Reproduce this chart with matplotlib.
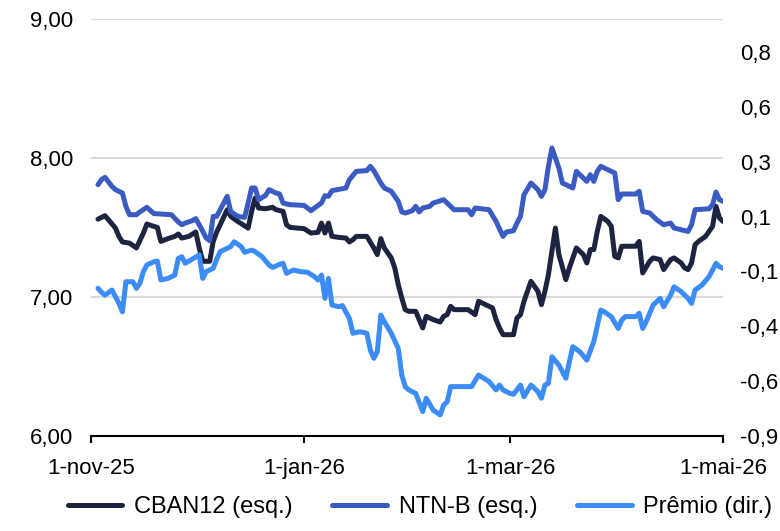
import pandas as pd
import matplotlib
matplotlib.use("Agg")
import matplotlib.pyplot as plt
from matplotlib.ticker import FixedLocator, FixedFormatter, FuncFormatter

plt.rcParams["font.family"] = ["Liberation Sans", "DejaVu Sans"]
plt.rcParams["font.size"] = 16

# CBAN12 (eixo esquerdo)
cban_dates = [
    "03/11/25", "05/11/25", "06/11/25", "08/11/25", "09/11/25", "10/11/25", "12/11/25", "14/11/25", "16/11/25",
    "17/11/25", "19/11/25", "20/11/25", "21/11/25", "23/11/25", "25/11/25", "26/11/25", "27/11/25", "29/11/25",
    "01/12/25", "02/12/25", "03/12/25", "05/12/25", "06/12/25", "07/12/25", "08/12/25", "10/12/25", "11/12/25",
    "13/12/25", "16/12/25", "17/12/25", "18/12/25", "19/12/25", "21/12/25", "23/12/25", "24/12/25", "26/12/25",
    "27/12/25", "28/12/25", "30/12/25",
    "01/01/26", "03/01/26", "05/01/26", "06/01/26", "07/01/26", "08/01/26", "09/01/26", "11/01/26", "13/01/26",
    "14/01/26", "15/01/26", "16/01/26", "19/01/26", "21/01/26", "22/01/26", "23/01/26", "24/01/26", "26/01/26",
    "27/01/26", "28/01/26", "29/01/26", "30/01/26", "31/01/26",
    "02/02/26", "04/02/26", "05/02/26", "07/02/26", "09/02/26", "10/02/26", "11/02/26", "12/02/26", "13/02/26",
    "15/02/26", "17/02/26", "19/02/26", "20/02/26", "22/02/26", "24/02/26", "25/02/26", "26/02/26", "27/02/26",
    "02/03/26", "03/03/26", "04/03/26", "05/03/26", "07/03/26", "09/03/26", "10/03/26", "11/03/26", "12/03/26",
    "14/03/26", "15/03/26", "17/03/26", "18/03/26", "20/03/26", "22/03/26", "23/03/26", "24/03/26", "25/03/26",
    "26/03/26", "27/03/26", "29/03/26", "30/03/26", "31/03/26",
    "01/04/26", "02/04/26", "06/04/26", "07/04/26", "08/04/26", "10/04/26", "11/04/26", "13/04/26", "14/04/26",
    "16/04/26", "17/04/26", "19/04/26", "20/04/26", "21/04/26", "22/04/26", "23/04/26", "24/04/26", "26/04/26",
    "27/04/26", "28/04/26", "29/04/26", "30/04/26", "01/05/26",
]
cban_values = [
    7.560, 7.585, 7.556, 7.496, 7.436, 7.396, 7.388, 7.353, 7.460, 7.525, 7.508, 7.501, 7.400, 7.420, 7.436, 7.453, 7.424, 7.436,
    7.468, 7.353, 7.257, 7.257, 7.400, 7.468, 7.520, 7.628, 7.580, 7.544, 7.496, 7.616, 7.712, 7.640, 7.635, 7.645, 7.628, 7.616,
    7.520, 7.501, 7.496,
    7.492, 7.460, 7.465, 7.532, 7.460, 7.532, 7.436, 7.429, 7.424, 7.396, 7.412, 7.436, 7.436, 7.353, 7.305, 7.420, 7.353, 7.281,
    7.209, 7.089, 6.993, 6.909, 6.897,
    6.897, 6.777, 6.861, 6.837, 6.820, 6.861, 6.873, 6.933, 6.909, 6.909, 6.909, 6.873, 6.969, 6.945, 6.921, 6.837, 6.777, 6.729,
    6.729, 6.849, 6.873, 6.969, 7.113, 7.041, 6.945, 7.041, 7.161, 7.496, 7.305, 7.125, 7.209, 7.353, 7.305, 7.245, 7.341, 7.341,
    7.472, 7.580, 7.544, 7.508, 7.293,
    7.281, 7.365, 7.365, 7.400, 7.173, 7.257, 7.281, 7.269, 7.197, 7.269, 7.281, 7.245, 7.209, 7.197, 7.245, 7.376, 7.400, 7.436,
    7.472, 7.508, 7.652, 7.568, 7.544,
]

# NTN-B (eixo esquerdo)
ntnb_dates = [
    "03/11/25", "04/11/25", "05/11/25", "07/11/25", "08/11/25", "10/11/25", "11/11/25", "12/11/25", "14/11/25",
    "15/11/25", "17/11/25", "19/11/25", "21/11/25", "24/11/25", "26/11/25", "27/11/25", "28/11/25", "30/11/25",
    "01/12/25", "02/12/25", "04/12/25", "05/12/25", "06/12/25", "07/12/25", "08/12/25", "10/12/25", "11/12/25",
    "13/12/25", "15/12/25", "16/12/25", "17/12/25", "18/12/25", "19/12/25", "21/12/25", "22/12/25", "24/12/25",
    "25/12/25", "26/12/25", "28/12/25",
    "01/01/26", "03/01/26", "04/01/26", "06/01/26", "07/01/26", "08/01/26", "09/01/26", "13/01/26", "14/01/26",
    "16/01/26", "19/01/26", "20/01/26", "21/01/26", "23/01/26", "24/01/26", "26/01/26", "28/01/26", "29/01/26",
    "30/01/26",
    "01/02/26", "02/02/26", "03/02/26", "04/02/26", "06/02/26", "07/02/26", "10/02/26", "11/02/26", "13/02/26",
    "17/02/26", "18/02/26", "19/02/26", "23/02/26", "25/02/26", "27/02/26", "28/02/26",
    "02/03/26", "03/03/26", "04/03/26", "05/03/26", "07/03/26", "09/03/26", "10/03/26", "11/03/26", "12/03/26",
    "13/03/26", "15/03/26", "16/03/26", "18/03/26", "19/03/26", "20/03/26", "21/03/26", "23/03/26", "24/03/26",
    "25/03/26", "26/03/26", "27/03/26", "31/03/26",
    "01/04/26", "02/04/26", "06/04/26", "07/04/26", "08/04/26", "10/04/26", "11/04/26", "12/04/26", "14/04/26",
    "16/04/26", "17/04/26", "19/04/26", "21/04/26", "22/04/26", "23/04/26", "27/04/26", "28/04/26", "29/04/26",
    "30/04/26", "01/05/26",
]
ntnb_values = [
    7.808, 7.844, 7.861, 7.796, 7.772, 7.748, 7.652, 7.592, 7.592, 7.612, 7.645, 7.600, 7.597, 7.592, 7.540, 7.520, 7.532, 7.549,
    7.564, 7.520, 7.424, 7.405, 7.580, 7.580, 7.628, 7.724, 7.616, 7.580, 7.573, 7.676, 7.784, 7.784, 7.700, 7.731, 7.772, 7.748,
    7.741, 7.676, 7.664,
    7.659, 7.621, 7.640, 7.676, 7.729, 7.724, 7.765, 7.784, 7.844, 7.904, 7.909, 7.940, 7.909, 7.820, 7.784, 7.760, 7.688, 7.612,
    7.604,
    7.621, 7.652, 7.612, 7.640, 7.652, 7.676, 7.700, 7.676, 7.628, 7.628, 7.592, 7.640, 7.628, 7.544, 7.436, 7.468,
    7.477, 7.532, 7.580, 7.736, 7.820, 7.772, 7.724, 7.772, 7.940, 8.072, 7.928, 7.820, 7.796, 7.784, 7.904, 7.880, 7.832, 7.880,
    7.832, 7.904, 7.940, 7.892,
    7.700, 7.741, 7.741, 7.760, 7.616, 7.604, 7.580, 7.556, 7.520, 7.532, 7.496, 7.484, 7.472, 7.520, 7.628, 7.635, 7.664, 7.755,
    7.700, 7.688,
]

# Prêmio (eixo direito)
premio_dates = [
    "03/11/25", "04/11/25", "05/11/25", "07/11/25", "08/11/25", "09/11/25", "10/11/25", "11/11/25", "13/11/25",
    "14/11/25", "15/11/25", "16/11/25", "17/11/25", "19/11/25", "20/11/25", "21/11/25", "23/11/25", "25/11/25",
    "26/11/25", "27/11/25", "28/11/25", "30/11/25",
    "02/12/25", "03/12/25", "04/12/25", "06/12/25", "07/12/25", "08/12/25", "10/12/25", "11/12/25", "12/12/25",
    "14/12/25", "15/12/25", "17/12/25", "18/12/25", "20/12/25", "22/12/25", "23/12/25", "25/12/25", "26/12/25",
    "27/12/25", "28/12/25", "29/12/25", "31/12/25",
    "02/01/26", "04/01/26", "05/01/26", "06/01/26", "07/01/26", "08/01/26", "09/01/26", "11/01/26", "12/01/26",
    "14/01/26", "15/01/26", "17/01/26", "18/01/26", "19/01/26", "20/01/26", "21/01/26", "22/01/26", "23/01/26",
    "24/01/26", "26/01/26", "28/01/26", "29/01/26", "30/01/26", "31/01/26",
    "02/02/26", "04/02/26", "05/02/26", "07/02/26", "09/02/26", "10/02/26", "11/02/26", "12/02/26", "18/02/26",
    "20/02/26", "23/02/26", "25/02/26", "26/02/26", "27/02/26",
    "01/03/26", "02/03/26", "04/03/26", "05/03/26", "07/03/26", "09/03/26", "10/03/26", "11/03/26", "12/03/26",
    "13/03/26", "15/03/26", "17/03/26", "18/03/26", "19/03/26", "21/03/26", "23/03/26", "25/03/26", "27/03/26",
    "28/03/26", "30/03/26",
    "01/04/26", "02/04/26", "03/04/26", "06/04/26", "07/04/26", "08/04/26", "09/04/26", "11/04/26", "13/04/26",
    "14/04/26", "16/04/26", "17/04/26", "19/04/26", "21/04/26", "22/04/26", "23/04/26", "25/04/26", "27/04/26",
    "28/04/26", "29/04/26", "30/04/26", "01/05/26",
]
premio_values = [
    -0.227, -0.245, -0.258, -0.235, -0.265, -0.296, -0.334, -0.197, -0.197, -0.227, -0.204, -0.151, -0.121, -0.106,
    -0.103, -0.189, -0.182, -0.167, -0.091, -0.083, -0.113, -0.094,
    -0.075, -0.182, -0.151, -0.136, -0.094, -0.060, -0.045, -0.037, -0.015, -0.037, -0.063, -0.053, -0.060, -0.083,
    -0.121, -0.132, -0.118, -0.113, -0.159, -0.151, -0.144, -0.151,
    -0.154, -0.174, -0.189, -0.167, -0.273, -0.182, -0.303, -0.311, -0.306, -0.364, -0.432, -0.425, -0.428, -0.432,
    -0.508, -0.546, -0.516, -0.349, -0.379, -0.432, -0.501, -0.622, -0.675, -0.690,
    -0.706, -0.789, -0.728, -0.782, -0.804, -0.759, -0.744, -0.675, -0.675, -0.622, -0.652, -0.690, -0.668, -0.690,
    -0.706, -0.710, -0.668, -0.721, -0.668, -0.698, -0.728, -0.668, -0.660, -0.539, -0.577, -0.637, -0.561, -0.493,
    -0.516, -0.554, -0.470, -0.326, -0.334, -0.356,
    -0.410, -0.372, -0.356, -0.356, -0.341, -0.410, -0.379, -0.303, -0.273, -0.311, -0.258, -0.220, -0.242, -0.273,
    -0.296, -0.235, -0.212, -0.174, -0.144, -0.113, -0.129, -0.136,
]

xtick_dates = ["01/11/25", "01/01/26", "01/03/26", "01/05/26"]
xtick_labels = ["1-nov-25", "1-jan-26", "1-mar-26", "1-mai-26"]
left_ticks = [6, 7, 8, 9]
right_ticks = [-0.90, -0.65, -0.40, -0.15, 0.10, 0.35, 0.60, 0.85]
right_labels = ["-0,9", "-0,6", "-0,4", "-0,1", "0,1", "0,3", "0,6", "0,8"]

c_cban = "#1d2440"
c_ntnb = "#3a5bc2"
c_premio = "#3b8cf7"

def to_dt(lst):
    return pd.to_datetime(lst, format="%d/%m/%y")

def comma(v, pos=None):
    return f"{v:.2f}".replace(".", ",")

fig = plt.figure(figsize=(7.8, 5.31), dpi=100)
ax = fig.add_axes([91 / 780, 95 / 531, 632 / 780, 417 / 531])
ax2 = ax.twinx()

line_kw = dict(lw=3.6, solid_joinstyle="round", solid_capstyle="round")
l1, = ax.plot(to_dt(cban_dates), cban_values, color=c_cban, label="CBAN12 (esq.)", **line_kw)
l2, = ax.plot(to_dt(ntnb_dates), ntnb_values, color=c_ntnb, label="NTN-B (esq.)", **line_kw)
l3, = ax2.plot(to_dt(premio_dates), premio_values, color=c_premio, label="Prêmio (dir.)", **line_kw)

ax.set_xlim(to_dt(["01/11/25"])[0], to_dt(["01/05/26"])[0])
ax.set_ylim(6, 9)
ax2.set_ylim(-0.9, 1.0)

ax.yaxis.set_major_locator(FixedLocator(left_ticks))
ax.yaxis.set_major_formatter(FuncFormatter(comma))
ax2.yaxis.set_major_locator(FixedLocator(right_ticks))
ax2.yaxis.set_major_formatter(FixedFormatter(right_labels))

ax.set_xticks(to_dt(xtick_dates))
ax.set_xticklabels(xtick_labels)

ax.grid(axis="y", color="#d9d9d9", lw=1.5)
ax.set_axisbelow(True)
for a in (ax, ax2):
    for s in ("left", "right", "top", "bottom"):
        a.spines[s].set_visible(False)
ax.spines["bottom"].set_visible(True)
ax.spines["bottom"].set_linewidth(1.5)
ax.spines["bottom"].set_color("black")

ax.tick_params(axis="y", length=0, pad=13, labelsize=16)
ax2.tick_params(axis="y", length=0, pad=12.5, labelsize=16)
ax.tick_params(axis="x", length=5, width=1.5, direction="out", pad=11, labelsize=16)

fig.legend(handles=[l1, l2, l3], loc="center", bbox_to_anchor=(0.5385, 24 / 531), ncol=3,
           frameon=False, fontsize=17, handlelength=2.3, handletextpad=0.5, columnspacing=1.7)

fig.savefig("out.png", dpi=100)
